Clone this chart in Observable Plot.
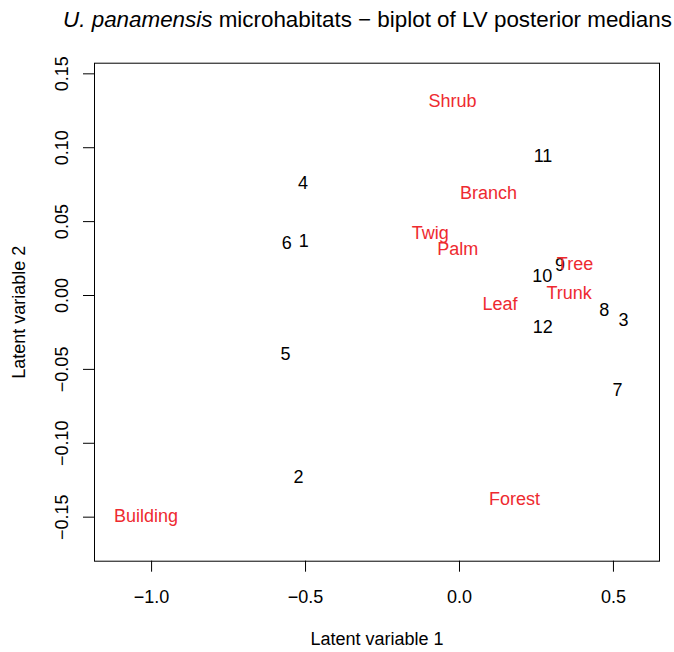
<!DOCTYPE html>
<html>
<head>
<meta charset="utf-8">
<script src="https://cdn.jsdelivr.net/npm/d3@7"></script>
<script src="https://cdn.jsdelivr.net/npm/@observablehq/plot@0.6"></script>
<style>
  html, body { margin: 0; padding: 0; background: #fff; }
  body { width: 674px; font-family: "Liberation Sans", Arial, sans-serif; }
  #title { height: 40px; line-height: 40px; font-size: 22.4px; text-align: center;
           padding-left: 61px; padding-right: 0px; box-sizing: border-box; width: 674px;
           white-space: nowrap; color: #000; }
  svg { display: block; }
</style>
</head>
<body>
<div id="title"><i>U. panamensis</i> microhabitats − biplot of LV posterior medians</div>
<div id="chart"></div>
<script>
// Site scores (black numbers)
const siteLabels = ["1","2","3","4","5","6","7","8","9","10","11","12"];
const siteLV1 = [-0.5057,-0.5229,0.5326,-0.5083,-0.5651,-0.5609,0.5132,0.4700,0.3264,0.2686,0.2712,0.2702];
const siteLV2 = [0.0367,-0.1231,-0.0164,0.0760,-0.0399,0.0352,-0.0643,-0.0101,0.0205,0.0127,0.0944,-0.0214];

// Species (microhabitat) scores (red names)
const specLabels = ["Shrub","Branch","Twig","Palm","Tree","Trunk","Leaf","Forest","Building"];
const specLV1 = [-0.0227,0.0942,-0.0952,-0.0058,0.3751,0.3563,0.1315,0.1786,-1.0182];
const specLV2 = [0.1316,0.0690,0.0423,0.0313,0.0214,0.0012,-0.0059,-0.1380,-0.1497];

const xTicks = [-1.0,-0.5,0.0,0.5];
const yTicks = [-0.15,-0.10,-0.05,0.00,0.05,0.10,0.15];

const sites = siteLabels.map((l,i) => ({label: l, x: siteLV1[i], y: siteLV2[i]}));
const specs = specLabels.map((l,i) => ({label: l, x: specLV1[i], y: specLV2[i]}));

const fmt = (d, n) => d.toFixed(n).replace("-", "\u2212");

const chart = Plot.plot({
  width: 674,
  height: 612,
  marginLeft: 94,
  marginRight: 15,
  marginTop: 22.7,
  marginBottom: 91.3,
  style: {fontFamily: "'Liberation Sans', Arial, sans-serif", fontSize: "18px", background: "#fff", color: "#000"},
  x: {domain: [-1.1854, 0.6496]},
  y: {domain: [-0.1798, 0.1572]},
  marks: [
    Plot.frame({stroke: "#000", strokeWidth: 1}),
    Plot.axisX({ticks: xTicks, tickSize: 11, tickPadding: 17.7, tickFormat: d => fmt(d,1), fontSize: 18, label: null}),
    Plot.axisY({ticks: yTicks, tickSize: 11, tickPadding: 15.5, tickRotate: -90, tickFormat: d => fmt(d,2), fontSize: 18, label: null}),
    Plot.text(["Latent variable 1"], {frameAnchor: "bottom", dy: 83.3, lineAnchor: "bottom", textAnchor: "middle", fontSize: 18, fill: "#000"}),
    Plot.text(["Latent variable 2"], {frameAnchor: "left", dx: -69.5, rotate: -90, lineAnchor: "bottom", textAnchor: "middle", fontSize: 18, fill: "#000"}),
    Plot.text(sites, {x: "x", y: "y", text: "label", fill: "#000", fontSize: 18, textAnchor: "middle", lineAnchor: "middle"}),
    Plot.text(specs, {x: "x", y: "y", text: "label", fill: "#ee2a30", fontSize: 18, textAnchor: "middle", lineAnchor: "middle"})
  ]
});
document.getElementById("chart").appendChild(chart);
</script>
</body>
</html>
